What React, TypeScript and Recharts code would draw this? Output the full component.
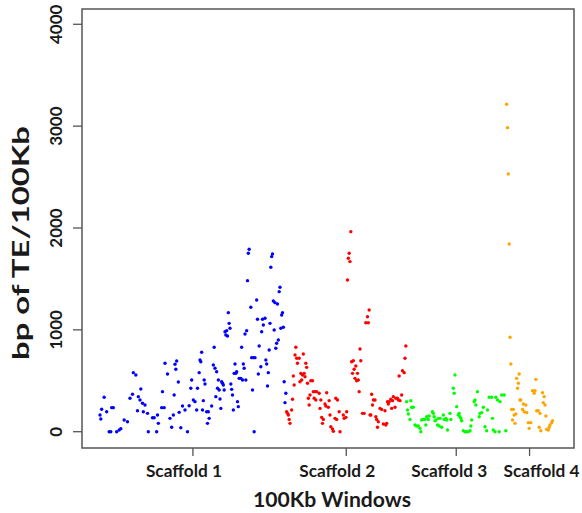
import React from "react";
import { ScatterChart, Scatter, XAxis, YAxis, ReferenceArea } from "recharts";

const scaffoldNames = ["Scaffold 1", "Scaffold 2", "Scaffold 3", "Scaffold 4"];
const scaffoldColors = ["#0000FF", "#FF0000", "#00FF00", "#FFA500"];
const yTicks = [0, 1000, 2000, 3000, 4000];

// [window index, bp of TE per 100Kb]
const scaffold1: [number, number][] = [
  [1, 164], [2, 124], [3, 220], [6, 338], [9, 196], [12, 0], [14, 0], [15, 236], [17, 236], [21, 0],
  [24, 17], [26, 30], [30, 115], [34, 98], [37, 328], [40, 367], [41, 580], [44, 557], [46, 206], [47, 344],
  [49, 311], [50, 419], [52, 279], [53, 196], [55, 262], [58, 180], [59, 0], [64, 137], [66, 137], [69, 0],
  [70, 164], [71, 82], [75, 236], [76, 393], [78, 236], [79, 672], [82, 567], [85, 131], [87, 43], [89, 164],
  [90, 360], [91, 662], [92, 613], [93, 694], [95, 488], [96, 190], [98, 39], [100, 252], [103, 213], [106, 0],
  [108, 255], [110, 426], [111, 508], [113, 311], [115, 295], [117, 213], [118, 426], [120, 580], [121, 704], [122, 687],
  [123, 780], [124, 213], [125, 305], [126, 508], [127, 468], [129, 196], [130, 82], [131, 196], [132, 131], [135, 252],
  [137, 655], [138, 829], [139, 623], [140, 344], [141, 589], [142, 426], [143, 508], [144, 409], [145, 321], [146, 229],
  [147, 491], [148, 475], [149, 459], [150, 409], [151, 982], [152, 950], [153, 992], [154, 940], [155, 1169], [156, 1064],
  [157, 1015], [158, 468], [159, 416], [160, 360], [161, 213], [162, 573], [163, 664], [164, 573], [165, 589], [166, 295],
  [167, 246], [168, 524], [170, 524], [171, 829], [172, 508], [173, 664], [174, 623], [175, 959], [176, 508], [177, 992],
  [178, 1483], [179, 1752], [180, 1791], [182, 1222], [183, 727], [184, 409], [185, 727], [186, 0], [187, 727], [189, 1293],
  [190, 1104], [191, 567], [192, 842], [194, 638], [195, 982], [196, 1104], [197, 1048], [199, 1114], [200, 704], [201, 664],
  [202, 449], [203, 580], [204, 802], [205, 1064], [206, 1614], [207, 1719], [208, 1745], [209, 1283], [210, 999], [211, 1267],
  [212, 819], [213, 868], [214, 1254], [215, 900], [216, 1375], [217, 1418], [218, 1015], [219, 1146], [220, 1169], [221, 1025],
  [222, 491], [223, 285], [224, 377],
];

const scaffold2: [number, number][] = [
  [225, 196], [226, 180], [227, 164], [228, 121], [229, 82], [231, 213], [232, 318], [233, 547], [234, 459], [235, 753],
  [236, 829], [237, 721], [238, 672], [240, 721], [241, 491], [242, 573], [243, 508], [244, 557], [245, 763], [246, 573],
  [247, 540], [248, 672], [249, 632], [250, 475], [251, 328], [252, 262], [253, 360], [254, 500], [256, 500], [257, 393],
  [258, 328], [259, 393], [260, 311], [261, 393], [264, 377], [265, 229], [266, 311], [267, 141], [268, 82], [269, 121],
  [271, 272], [272, 252], [273, 383], [275, 240], [276, 305], [277, 164], [278, 49], [280, 27], [281, 4], [283, 131],
  [284, 328], [285, 121], [286, 311], [288, 196], [289, 0], [293, 164], [294, 131], [296, 141], [297, 196], [298, 1490],
  [299, 1703], [300, 1752], [301, 1670], [302, 1964], [303, 687], [304, 573], [305, 697], [306, 613], [307, 524], [308, 645],
  [309, 500], [310, 573], [311, 508], [312, 393], [313, 812], [314, 697], [316, 180], [318, 180], [320, 1070], [322, 1129],
  [323, 1070], [324, 1195], [325, 164], [326, 164], [327, 367], [328, 262], [329, 311], [331, 311], [332, 147], [333, 121],
  [334, 43], [335, 98], [337, 229], [339, 219], [341, 76], [343, 206], [344, 66], [345, 82], [346, 295], [347, 272],
  [348, 295], [350, 318], [351, 229], [352, 305], [353, 344], [355, 240], [356, 328], [358, 328], [359, 311], [360, 547],
  [361, 305], [363, 360], [364, 599], [366, 580], [367, 721], [368, 842],
];

const scaffold3: [number, number][] = [
  [369, 295], [370, 213], [371, 174], [373, 121], [374, 305], [375, 240], [377, 240], [379, 66], [381, 56], [383, 56],
  [385, 33], [386, 0], [387, 115], [389, 121], [391, 121], [392, 66], [393, 147], [395, 121], [396, 154], [400, 196],
  [401, 180], [402, 147], [403, 108], [404, 115], [406, 66], [407, 131], [408, 56], [409, 131], [411, 43], [413, 164],
  [414, 121], [416, 131], [417, 115], [418, 17], [421, 180], [422, 121], [425, 426], [426, 377], [427, 557], [429, 246],
  [431, 164], [432, 180], [433, 147], [434, 131], [435, 108], [437, 10], [439, 0], [441, 0], [443, 0], [445, 10],
  [446, 56], [447, 115], [450, 295], [451, 311], [452, 262], [454, 393], [456, 147], [457, 180], [459, 187], [461, 240],
  [463, 49], [465, 10], [466, 213], [468, 338], [471, 338], [472, 131], [473, 17], [475, 0], [476, 338], [478, 311],
  [480, 0], [481, 295], [483, 360], [486, 360], [488, 10],
];

const scaffold4: [number, number][] = [
  [489, 3215], [490, 2985], [491, 2531], [492, 1843], [493, 927], [494, 665], [495, 219], [496, 115], [497, 219], [498, 164],
  [499, 82], [500, 174], [501, 524], [502, 426], [503, 475], [504, 567], [505, 311], [506, 311], [508, 219], [509, 272],
  [510, 196], [512, 262], [513, 187], [515, 89], [516, 33], [518, 89], [520, 403], [522, 377], [523, 403], [524, 514],
  [525, 206], [527, 206], [528, 43], [529, 180], [530, 10], [532, 383], [533, 285], [534, 344], [535, 262], [536, 154],
  [537, 23], [539, 17], [540, 43], [541, 66], [543, 89], [544, 108],
];

const scaffolds = [scaffold1, scaffold2, scaffold3, scaffold4];
const xDomain: [number, number] = [-20.6, 569.8];
const yDomain: [number, number] = [-160, 4150];

// scaffold tick sits at the middle of its windows
const scaffoldTicks = scaffolds.map((s) => (s[0][0] + s[s.length - 1][0]) / 2);
// the labels in the original are nudged off their ticks a little
const labelNudge = [-9, -9, -7, 12];

const FONT = "Lato, 'Open Sans', sans-serif";
const INK = "#1a1a1a";

const XTick = (props: any) => {
  const { x, y, index } = props;
  return (
    <text
      x={x + labelNudge[index]}
      y={y + 19}
      textAnchor="middle"
      fontFamily={FONT}
      fontWeight={700}
      fontSize={17}
      fill={INK}
      textLength={76}
      lengthAdjust="spacingAndGlyphs"
    >
      {scaffoldNames[index]}
    </text>
  );
};

const YTick = (props: any) => {
  const { x, y, payload } = props;
  const bx = x - 9;
  return (
    <text
      x={bx}
      y={y}
      transform={`rotate(-90, ${bx}, ${y})`}
      textAnchor="middle"
      fontFamily={FONT}
      fontWeight={700}
      fontSize={17}
      fill={INK}
    >
      {payload.value}
    </text>
  );
};

const XTitle = (props: any) => {
  const vb = props.viewBox || { x: 82, y: 448, width: 492 };
  return (
    <text
      x={vb.x + vb.width / 2 + 4}
      y={vb.y + 59}
      textAnchor="middle"
      fontFamily={FONT}
      fontWeight={700}
      fontSize={21}
      fill={INK}
      textLength={158}
      lengthAdjust="spacingAndGlyphs"
    >
      100Kb Windows
    </text>
  );
};

const YTitle = () => (
  <text
    x={29}
    y={243}
    transform="rotate(-90, 29, 243)"
    textAnchor="middle"
    fontFamily={FONT}
    fontWeight={700}
    fontSize={23}
    fill={INK}
    textLength={234}
    lengthAdjust="spacingAndGlyphs"
  >
    bp of TE/100Kb
  </text>
);

export default function App() {
  return (
    <div style={{ position: "absolute", left: 0, top: 0, background: "#fff" }}>
      <ScatterChart width={582} height={513} margin={{ top: 9, right: 8, left: 0, bottom: 0 }}>
        <XAxis
          type="number"
          dataKey="w"
          domain={xDomain}
          ticks={scaffoldTicks}
          tick={<XTick />}
          tickSize={8}
          axisLine={false}
          tickLine={{ stroke: "#555", strokeWidth: 1.3 }}
          height={65}
          allowDataOverflow
          label={<XTitle />}
        />
        <YAxis
          type="number"
          dataKey="bp"
          domain={yDomain}
          ticks={yTicks}
          tick={<YTick />}
          tickSize={9}
          axisLine={false}
          tickLine={{ stroke: "#555", strokeWidth: 1.3 }}
          width={82}
          allowDataOverflow
          label={<YTitle />}
        />
        <ReferenceArea
          x1={xDomain[0]}
          x2={xDomain[1]}
          y1={yDomain[0]}
          y2={yDomain[1]}
          fill="none"
          stroke="#555"
          strokeWidth={1.5}
        />
        {scaffolds.map((s, i) => (
          <Scatter
            key={scaffoldNames[i]}
            name={scaffoldNames[i]}
            data={s.map(([w, bp]) => ({ w, bp }))}
            fill={scaffoldColors[i]}
            isAnimationActive={false}
            shape={(p: any) => <circle cx={p.cx} cy={p.cy} r={1.7} fill={scaffoldColors[i]} />}
          />
        ))}
      </ScatterChart>
    </div>
  );
}
